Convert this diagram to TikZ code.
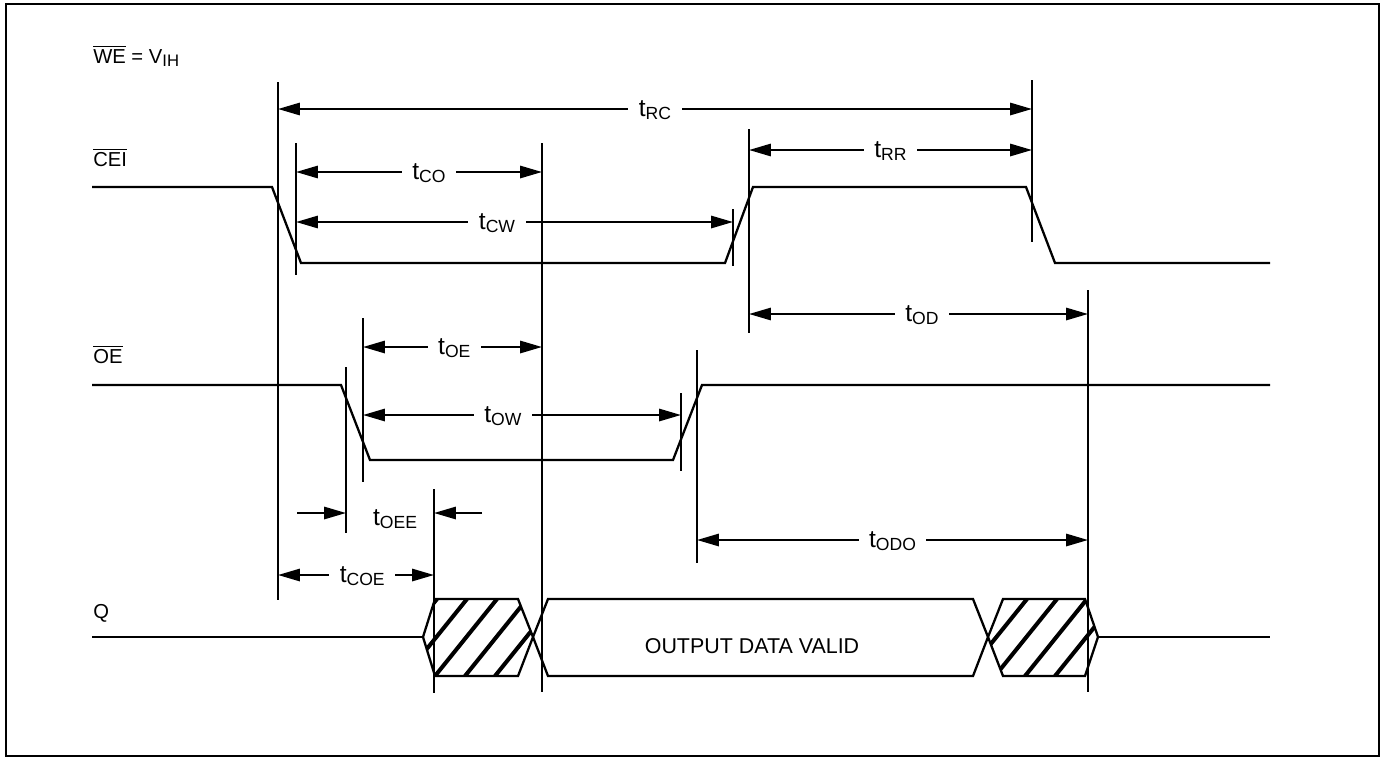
\documentclass[tikz,border=0pt]{standalone}
\usepackage{fontspec}
\setmainfont{Liberation Sans}
\usetikzlibrary{arrows.meta, calc}
\tikzset{
    sigWave/.style={line width=1.3pt},
    evtMark/.style={line width=1.1pt},
    timeArr/.style={<->, >={Triangle[length=12.5pt, width=7pt]}, line width=1.2pt},
    timeOne/.style={->, >={Triangle[length=12.5pt, width=7pt]}, line width=1.2pt},
    timeLbl/.style={fill=white, inner xsep=6pt, inner ysep=1pt, anchor=base, yshift=-4pt, font=\fontsize{14}{16}\selectfont},
    sigLbl/.style={anchor=base west, inner sep=0pt, font=\fontsize{11.5}{13}\selectfont},
    hatchLn/.style={line width=2.3pt},
}
\newcommand{\tsym}[1]{t\raisebox{-2pt}{\fontsize{10}{11}\selectfont #1}}
\newcommand{\barsig}[1]{$\overline{\mbox{#1}}$}
\newcommand{\drawMark}[2]{
    \draw[evtMark] (#1) -- (#2);
}
\newcommand{\drawTime}[4][0.5]{
    \draw[timeArr] (#2) -- node[timeLbl, pos=#1] {\tsym{#4}} (#3);
}

\begin{document}
\begin{tikzpicture}[x=0.02cm, y=-0.02cm]
        \useasboundingbox (0,0) rectangle (1382,758);
        \draw[line width=1pt] (6,4) rectangle (1379,756);

        \node[sigLbl] (weLbl) at (93,63) {\barsig{WE} = V\raisebox{-2pt}{\fontsize{9.5}{10}\selectfont IH}};
        \node[sigLbl] (ceiLbl) at (93,166) {\barsig{CEI}};
        \node[sigLbl] (oeLbl) at (93,363) {\barsig{OE}};
        \node[sigLbl] (qLbl) at (93,618) {Q};

        % waveforms
        \draw[sigWave] (92,187) -- (272,187) -- (301,263) -- (725,263) -- (753,187) -- (1026,187) -- (1055,263) -- (1270,263);
        \draw[sigWave] (92,385) -- (341,385) -- (370,460) -- (673,460) -- (702,385) -- (1270,385);
        \draw[sigWave] (92,637) -- (423,637);
        \draw[sigWave] (1098,637) -- (1270,637);
        \begin{scope}
            \clip (423,637) -- (435,599) -- (518,599) -- (533,637) -- (518,676) -- (435,676) -- cycle;
            \foreach \hx in {375,405,435,465,495}
                \draw[hatchLn] (\hx,676) -- ++(62,-77);
        \end{scope}
        \begin{scope}
            \clip (988,637) -- (1003,599) -- (1085,599) -- (1098,637) -- (1085,676) -- (1003,676) -- cycle;
            \foreach \hx in {935,965,995,1025,1055}
                \draw[hatchLn] (\hx,676) -- ++(62,-77);
        \end{scope}
        \draw[sigWave] (423,637) -- (435,599) -- (518,599) -- (533,637) -- (518,676) -- (435,676) -- cycle;
        \draw[sigWave] (533,637) -- (548,599) -- (973,599) -- (988,637) -- (973,676) -- (548,676) -- cycle;
        \draw[sigWave] (988,637) -- (1003,599) -- (1085,599) -- (1098,637) -- (1085,676) -- (1003,676) -- cycle;
        \node[anchor=base, font=\fontsize{12.2}{14}\selectfont] (validLbl) at (752,653) {OUTPUT DATA VALID};

        % event markers
        \coordinate (m1t) at (278,82);    \coordinate (m1b) at (278,600);
        \coordinate (m2t) at (296,143);   \coordinate (m2b) at (296,275);
        \coordinate (m3t) at (542,143);   \coordinate (m3b) at (542,692);
        \coordinate (m4t) at (733,209);   \coordinate (m4b) at (733,266);
        \coordinate (m5t) at (749,129);   \coordinate (m5b) at (749,333);
        \coordinate (m6t) at (1032,80);   \coordinate (m6b) at (1032,242);
        \coordinate (m7t) at (1088,290);  \coordinate (m7b) at (1088,692);
        \coordinate (m8t) at (346,367);   \coordinate (m8b) at (346,533);
        \coordinate (m9t) at (363,318);   \coordinate (m9b) at (363,482);
        \coordinate (m10t) at (681,393);  \coordinate (m10b) at (681,471);
        \coordinate (m11t) at (697,350);  \coordinate (m11b) at (697,563);
        \coordinate (m12t) at (434,489);  \coordinate (m12b) at (434,693);
        \foreach \m in {1,...,12} {
            \drawMark{m\m t}{m\m b}
        }

        % timing arrows
        \coordinate (rcA) at (278,109);   \coordinate (rcB) at (1032,109);
        \coordinate (rrA) at (749,150);   \coordinate (rrB) at (1032,150);
        \coordinate (coA) at (296,172);   \coordinate (coB) at (542,172);
        \coordinate (cwA) at (296,222);   \coordinate (cwB) at (733,222);
        \coordinate (odA) at (749,314);   \coordinate (odB) at (1088,314);
        \coordinate (oeA) at (363,347);   \coordinate (oeB) at (542,347);
        \coordinate (owA) at (363,415);   \coordinate (owB) at (681,415);
        \coordinate (odoA) at (697,540);  \coordinate (odoB) at (1088,540);
        \coordinate (coeA) at (278,575);  \coordinate (coeB) at (434,575);
        \drawTime{rcA}{rcB}{RC}
        \drawTime{rrA}{rrB}{RR}
        \drawTime[0.54]{coA}{coB}{CO}
        \drawTime[0.46]{cwA}{cwB}{CW}
        \drawTime[0.51]{odA}{odB}{OD}
        \drawTime[0.51]{oeA}{oeB}{OE}
        \drawTime[0.44]{owA}{owB}{OW}
        \drawTime{odoA}{odoB}{ODO}
        \drawTime[0.54]{coeA}{coeB}{COE}

        \coordinate (oeeA) at (297,513);  \coordinate (oeeB) at (346,513);
        \coordinate (oeeC) at (482,513);  \coordinate (oeeD) at (434,513);
        \draw[timeOne] (oeeA) -- (oeeB);
        \draw[timeOne] (oeeC) -- (oeeD);
        \node[anchor=base, font=\fontsize{14}{16}\selectfont] (oeeLbl) at (395,525) {\tsym{OEE}};

    \end{tikzpicture}
\end{document}
